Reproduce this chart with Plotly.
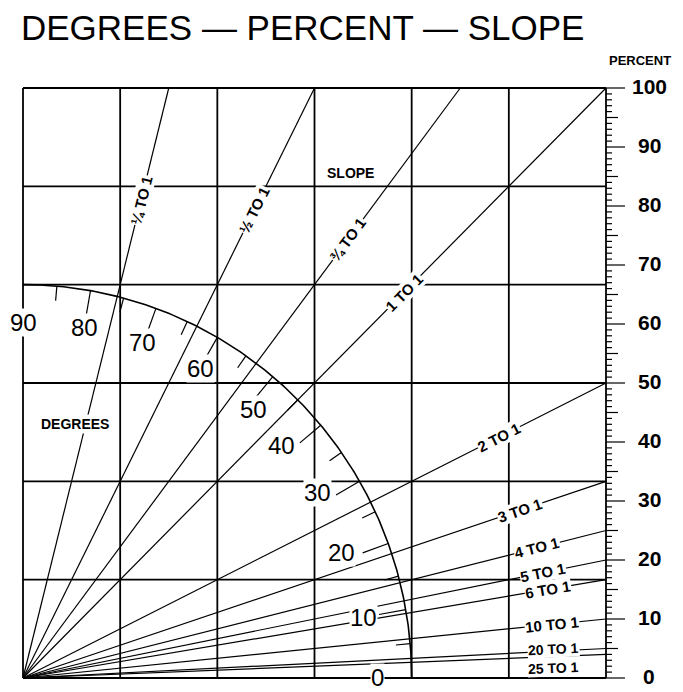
import math
import plotly.graph_objects as go

# ---------------- data ----------------
slope_names = ["¼ TO 1", "½ TO 1", "¾ TO 1", "1 TO 1", "2 TO 1", "3 TO 1",
               "4 TO 1", "5 TO 1", "6 TO 1", "10 TO 1", "20 TO 1", "25 TO 1"]
slope_run = [0.25, 0.5, 0.75, 1, 2, 3, 4, 5, 6, 10, 20, 25]   # horizontal per 1 vertical
percent_ticks = [0, 10, 20, 30, 40, 50, 60, 70, 80, 90, 100]
degree_labels = [0, 10, 20, 30, 40, 50, 60, 70, 80, 90]
degree_minor = [5, 15, 25, 35, 45, 55, 65, 75, 85]
grid_cells = 6
arc_radius = 400 / 6          # 4 grid cells

# ---------------- layout constants ----------------
PXX = 5.83   # px per x unit
PXY = 5.90   # px per y unit
OFF = 8      # page body margin
FONT = "Liberation Sans, Arial, sans-serif"
slope_label_x = [20.25, 39.7, 55.7, 65.4, 81.6, 85.2, 88.2, 89.2, 90.0, 90.7, 91.0, 91.0]
slope_label_dy = [0, 0, 0, 0, 0, 0, 0, 0, 0, 0, 0.35, -1.9]
slope_label_size = [15, 15, 15, 15, 15, 15, 15, 15, 15, 15, 14, 14]
deg_label_r = [60.8, 59.2, 58.7, 59.4, 59.4, 60.2, 60.7, 60.4, 60.4, 60.2]
deg_label_t = [-0.4, 9.9, 21.3, 31.9, 41.6, 49.0, 59.9, 70.1, 79.9, 90.0]

fig = go.Figure()
line_style = dict(color="black", width=1.2)

# grid and border
gx, gy = [], []
for i in range(grid_cells + 1):
    v = 100 * i / grid_cells
    gx += [v, v, None]
    gy += [0, 100, None]
    gx += [0, 100, None]
    gy += [v, v, None]
fig.add_trace(go.Scatter(x=gx, y=gy, mode="lines", line=dict(color="black", width=1.8),
                         hoverinfo="skip"))

# slope lines
sx, sy = [], []
for run in slope_run:
    pct = 100 / run
    if pct <= 100:
        sx += [0, 100, None]
        sy += [0, pct, None]
    else:
        sx += [0, 100 * run, None]
        sy += [0, 100, None]
fig.add_trace(go.Scatter(x=sx, y=sy, mode="lines", line=line_style, hoverinfo="skip"))

# degree arc
th = [i * 0.5 for i in range(181)]
fig.add_trace(go.Scatter(x=[arc_radius * math.cos(math.radians(t)) for t in th],
                         y=[arc_radius * math.sin(math.radians(t)) for t in th],
                         mode="lines", line=dict(color="black", width=1.6), hoverinfo="skip"))

# degree ticks (minor) and leaders (labelled)
tx, ty = [], []
for d in degree_minor:
    c, s = math.cos(math.radians(d)), math.sin(math.radians(d))
    tx += [64.2 * c, arc_radius * c, None]
    ty += [64.2 * s, arc_radius * s, None]
for d in degree_labels[1:-1]:
    c, s = math.cos(math.radians(d)), math.sin(math.radians(d))
    tx += [62.0 * c, arc_radius * c, None]
    ty += [62.0 * s, arc_radius * s, None]
fig.add_trace(go.Scatter(x=tx, y=ty, mode="lines", line=line_style, hoverinfo="skip"))

# right percent scale ticks
rx, ry = [], []
for p in range(0, 101):
    if p % 10 == 0:
        L = 19 / PXX
    elif p % 5 == 0:
        L = 12 / PXX
    else:
        L = 6 / PXX
    rx += [100, 100 + L, None]
    ry += [p, p, None]
fig.add_trace(go.Scatter(x=rx, y=ry, mode="lines", line=dict(color="black", width=1.2),
                         hoverinfo="skip"))

ann = []
# slope labels
for name, run, lx, dy, fs in zip(slope_names, slope_run, slope_label_x,
                                 slope_label_dy, slope_label_size):
    pct = 100 / run
    ly = lx * pct / 100 + dy
    ang = math.degrees(math.atan(pct / 100 * PXY / PXX))
    ann.append(dict(x=lx, y=ly, text="<b>%s</b>" % name, showarrow=False, textangle=-ang,
                    font=dict(family=FONT, size=fs, color="black"),
                    bgcolor="white", borderpad=0))

# degree labels
for d, r, t in zip(degree_labels, deg_label_r, deg_label_t):
    a = dict(x=r * math.cos(math.radians(t)), y=r * math.sin(math.radians(t)),
             text=str(d), showarrow=False,
             font=dict(family=FONT, size=24, color="black"),
             bgcolor="white", borderpad=0)
    if d == 0:
        a.update(y=-(692 - 678) / PXY + 0.05, yanchor="bottom")
    ann.append(a)

# percent labels
for p in percent_ticks:
    ann.append(dict(x=107.4, y=p + 0.2, text="<b>%d</b>" % p, showarrow=False,
                    font=dict(family=FONT, size=21, color="black")))

ann.append(dict(x=105.9, y=104.6, text="<b>PERCENT</b>", showarrow=False,
                font=dict(family=FONT, size=13, color="black")))
ann.append(dict(x=56.1, y=85.6, text="<b>SLOPE</b>", showarrow=False, bgcolor="white",
                font=dict(family=FONT, size=14, color="black")))
ann.append(dict(x=8.9, y=43.05, text="<b>DEGREES</b>", showarrow=False, bgcolor="white",
                font=dict(family=FONT, size=14, color="black")))
ann.append(dict(x=47.9, y=110.3, text="DEGREES — PERCENT — SLOPE", showarrow=False,
                font=dict(family=FONT, size=35, color="black")))

fig.update_layout(
    width=683 - OFF, height=692 - OFF, margin=dict(l=0, r=0, t=0, b=0),
    paper_bgcolor="white", plot_bgcolor="white", showlegend=False,
    xaxis=dict(range=[(OFF - 23) / PXX, (683 - 23) / PXX], visible=False, fixedrange=True),
    yaxis=dict(range=[-(692 - 678) / PXY, (678 - OFF) / PXY], visible=False, fixedrange=True),
    annotations=ann,
)
fig.write_html("out.html")
